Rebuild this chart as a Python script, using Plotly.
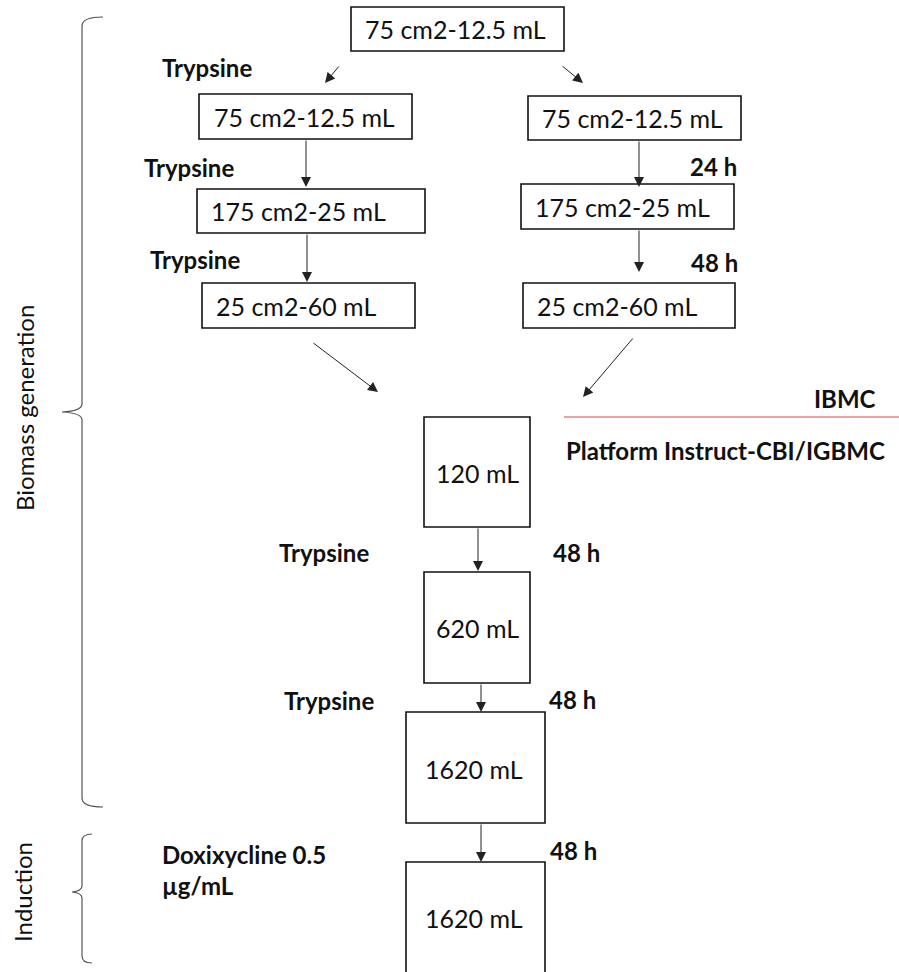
import plotly.graph_objects as go

# ---------------- data ----------------
box_labels = ["75 cm2-12.5 mL",
              "75 cm2-12.5 mL", "175 cm2-25 mL", "25 cm2-60 mL",
              "75 cm2-12.5 mL", "175 cm2-25 mL", "25 cm2-60 mL",
              "120 mL", "620 mL", "1620 mL", "1620 mL"]
step_labels = ["Trypsine", "Trypsine", "Trypsine", "24 h", "48 h",
               "Trypsine", "48 h", "Trypsine", "48 h",
               "Doxixycline 0.5<br>µg/mL", "48 h"]
site_labels = ["IBMC", "Platform Instruct-CBI/IGBMC"]
phase_labels = ["Biomass generation", "Induction"]

# ---------------- layout (pixel coordinates) ----------------
box_x0 = [351, 199, 197, 202, 528, 521, 523, 424, 424, 406, 406]
box_x1 = [564, 412, 425, 415, 741, 734, 735, 530, 530, 545, 545]
box_y0 = [7, 94, 189, 283, 96, 184, 283, 417, 572, 712, 862]
box_y1 = [51, 139, 233, 328, 140, 229, 328, 527, 683, 823, 1000]
box_tx = [363, 212, 209, 214, 540, 533, 535, 477, 477, 474, 474]
box_ty = [29, 117, 211, 306, 118, 207, 306, 473, 628, 769, 918]
box_anchor = ["left"] * 7 + ["center"] * 4

step_x = [160, 142, 148, 739, 740, 277, 551, 282, 547, 160, 548]
step_y = [67, 167, 259, 166, 262, 552, 552, 700, 699, 870, 850]
step_anchor = ["left", "left", "left", "right", "right", "left", "left",
               "left", "left", "left", "left"]

arrow_tail = [(340, 65), (561, 65), (306, 139), (307, 233), (639, 140),
              (639, 229), (312, 342), (634, 337), (478, 527), (481, 683),
              (481, 823)]
arrow_head = [(325, 83), (583, 83), (306, 187), (307, 282), (639, 187),
              (639, 272), (378, 392), (583, 397), (478, 571), (481, 712),
              (481, 862)]

W, H = 899, 972
FONT = "Lato, Carlito, Calibri, sans-serif"

fig = go.Figure()
fig.add_trace(go.Scatter(x=[0, W], y=[0, H], mode="markers",
                         marker=dict(opacity=0), hoverinfo="skip",
                         showlegend=False))

shapes = []
annotations = []

for i, lab in enumerate(box_labels):
    shapes.append(dict(type="rect", xref="x", yref="y",
                       x0=box_x0[i], x1=box_x1[i], y0=box_y0[i], y1=box_y1[i],
                       line=dict(color="#111111", width=1.6),
                       fillcolor="rgba(0,0,0,0)"))
    annotations.append(dict(x=box_tx[i], y=box_ty[i], xref="x", yref="y",
                            text=lab, showarrow=False,
                            xanchor=box_anchor[i], yanchor="middle",
                            font=dict(family=FONT, size=25, color="#111")))

for i, lab in enumerate(step_labels):
    annotations.append(dict(x=step_x[i], y=step_y[i], xref="x", yref="y",
                            text="<b>" + lab.replace("<br>", "</b><br><b>") + "</b>",
                            showarrow=False, align="left",
                            xanchor=step_anchor[i], yanchor="middle",
                            font=dict(family=FONT, size=24, color="#111")))

for (tx, ty), (hx, hy) in zip(arrow_tail, arrow_head):
    annotations.append(dict(x=hx, y=hy, ax=tx, ay=ty, xref="x", yref="y",
                            axref="x", ayref="y", text="", showarrow=True,
                            arrowhead=2, arrowsize=2, arrowwidth=1,
                            arrowcolor="#222", standoff=0))

# site labels and separator
annotations.append(dict(x=878, y=398, xref="x", yref="y",
                        text="<b>" + site_labels[0] + "</b>",
                        showarrow=False, xanchor="right", yanchor="middle",
                        font=dict(family=FONT, size=24, color="#111")))
annotations.append(dict(x=564, y=450, xref="x", yref="y",
                        text="<b>" + site_labels[1] + "</b>",
                        showarrow=False, xanchor="left", yanchor="middle",
                        font=dict(family=FONT, size=24, color="#111")))
shapes.append(dict(type="line", xref="x", yref="y", x0=564, x1=899, y0=417, y1=417,
                   line=dict(color="#d84848", width=1)))

# braces
shapes.append(dict(type="path", xref="x", yref="y",
                   path="M 103 17 Q 82 17 82 26 L 82 404 Q 82 411 62 412 "
                        "Q 82 413 82 420 L 82 798 Q 82 807 103 807",
                   line=dict(color="#555", width=1.2)))
shapes.append(dict(type="path", xref="x", yref="y",
                   path="M 92 834 Q 82 834 82 841 L 82 886 Q 82 891 72 892 "
                        "Q 82 893 82 898 L 82 956 Q 82 963 92 963",
                   line=dict(color="#555", width=1.2)))

annotations.append(dict(x=24, y=408, xref="x", yref="y", text=phase_labels[0],
                        showarrow=False, textangle=-90, xanchor="center",
                        yanchor="middle",
                        font=dict(family=FONT, size=24, color="#111")))
annotations.append(dict(x=22, y=892, xref="x", yref="y", text=phase_labels[1],
                        showarrow=False, textangle=-90, xanchor="center",
                        yanchor="middle",
                        font=dict(family=FONT, size=24, color="#111")))

fig.update_layout(width=W, height=H, margin=dict(l=0, r=0, t=0, b=0),
                  paper_bgcolor="white", plot_bgcolor="white",
                  xaxis=dict(range=[0, W], visible=False, fixedrange=True),
                  yaxis=dict(range=[H, 0], visible=False, fixedrange=True),
                  shapes=shapes, annotations=annotations, showlegend=False,
                  hovermode=False)

fig.write_html("out.html", config={"displayModeBar": False},
               post_script="document.body.style.margin='0px';"
                           "document.body.style.overflow='hidden';")
